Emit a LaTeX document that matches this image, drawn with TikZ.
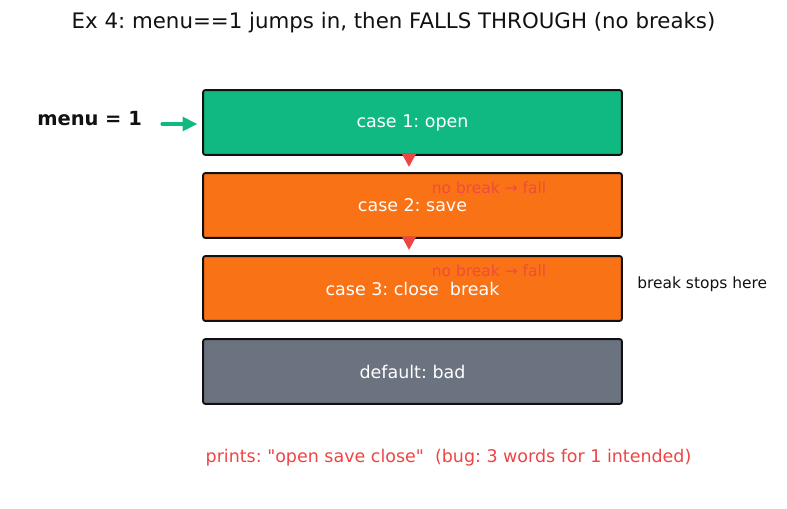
\documentclass[tikz,border=0pt]{standalone}
\usepackage{fontspec}
\setmainfont{DejaVu Sans}
\usetikzlibrary{arrows.meta,positioning}
\definecolor{casegreen}{HTML}{10B981}
\definecolor{caseorange}{HTML}{F97316}
\definecolor{casegray}{HTML}{6B7280}
\definecolor{fallred}{HTML}{EF4444}
\definecolor{inkdark}{HTML}{111111}
\frenchspacing
\font\rawquotefont="DejaVu Sans" at 13.1pt
\newcommand\straightq{{\rawquotefont\char34}}

\tikzset{
  casebox/.style={draw=inkdark,line width=1.4pt,rounded corners=1.5pt,minimum width=314pt,minimum height=48.5pt,
    text=white,font=\fontsize{13.1}{15}\selectfont,inner sep=0pt},
  fallarrow/.style={draw=fallred,line width=1.4pt,-{Triangle[width=10.5pt,length=10pt]}},
  falltext/.style={text=fallred,opacity=0.85,font=\fontsize{11.6}{13}\selectfont,inner sep=0pt}
}

\begin{document}
\begin{tikzpicture}[x=0.75pt,y=-0.75pt]
        \useasboundingbox (0,0) rectangle (787,508);
        \node[font=\fontsize{16}{19}\selectfont,text=inkdark] (title) at (393.5,23) {Ex 4: menu==1 jumps in, then FALLS THROUGH (no breaks)};
        % the four cases
        \node[casebox,fill=casegreen] (c1) at (412.5,122.5) {case 1: open};
        \node[casebox,fill=caseorange] (c2) at (412.5,205.5) {case 2: save};
        \node[casebox,fill=caseorange] (c3) at (412.5,288.5) {case 3: close\ \ break};
        \node[casebox,fill=casegray] (dflt) at (412.5,371.5) {default: bad};
        % entry
        \node[font=\bfseries\fontsize{14.6}{17}\selectfont,text=inkdark,anchor=west,inner sep=0pt] (menu) at (37,119) {menu = 1};
        \coordinate (entry) at (162,124);
        \draw[casegreen,line width=2.3pt,line cap=round,-{Triangle[width=10.5pt,length=11pt]}] (entry) -- ([xshift=-5*0.75pt]c1.west |- entry);
        % fall through
        \foreach \a/\b in {c1/c2,c2/c3}{
          \draw[fallarrow] ([xshift=-3.5*0.75pt]\a.south) -- ([xshift=-3.5*0.75pt,yshift=4pt]\b.north);
        }
        \node[falltext] (fall1) at (489,188) {no break → fall};
        \node[falltext] (fall2) at (489,271) {no break → fall};
        \node[font=\fontsize{11.6}{13}\selectfont,text=inkdark,anchor=west,inner sep=0pt] (stop) at (637,284) {break stops here};
        \node[text=fallred,font=\fontsize{13.1}{15}\selectfont] (out) at (448.5,458) {prints: \straightq open save close\straightq\ \ (bug: 3 words for 1 intended)};
      \end{tikzpicture}
\end{document}
